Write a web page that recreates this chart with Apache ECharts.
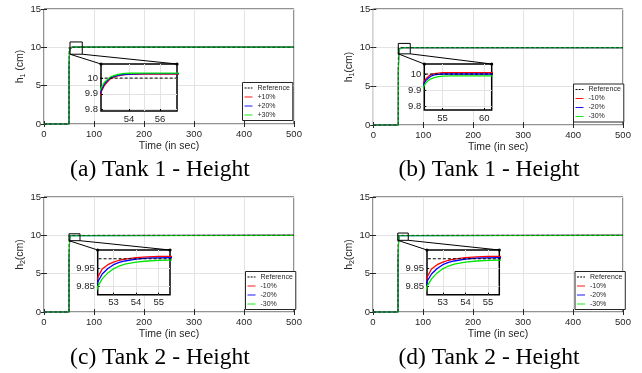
<!DOCTYPE html>
<html><head><meta charset="utf-8">
<script src="https://cdn.jsdelivr.net/npm/echarts@6/dist/echarts.min.js"></script>
<style>html,body{margin:0;padding:0;background:#fff}#c{width:642px;height:373px}</style>
</head><body><div id="c"></div>
<script>
// ---------- data ----------
const mainXTicks = [0, 100, 200, 300, 400, 500];
const mainYTicks = [0, 5, 10, 15];
const refTime = [0, 50, 50, 500];
const refHeight = [0, 0, 10, 10];

// (a) Tank 1, +variations
const timeA  = [0, 50, 50.2, 51, 51.6, 52.2, 52.4, 52.6, 52.8, 53.0, 53.3, 53.6, 54, 55, 57.1, 500];
const redA   = [0, 0, 7.0, 9.3, 9.75, 9.91, 9.95, 9.975, 9.995, 10.005, 10.015, 10.02, 10.024, 10.026, 10.026, 10.026];
const blueA  = [0, 0, 7.2, 9.35, 9.78, 9.92, 9.96, 9.983, 10.0, 10.01, 10.018, 10.023, 10.026, 10.028, 10.028, 10.028];
const greenA = [0, 0, 7.4, 9.4, 9.8, 9.935, 9.97, 9.99, 10.006, 10.015, 10.023, 10.028, 10.031, 10.032, 10.032, 10.032];

// (b) Tank 1, -variations
const timeB  = [0, 50, 50.2, 51, 52, 52.8, 53.0, 53.3, 53.6, 54, 54.5, 55, 56, 58, 61, 500];
const redB   = [0, 0, 7.0, 9.3, 9.85, 9.955, 9.97, 9.985, 9.995, 10.002, 10.006, 10.008, 10.008, 10.008, 10.008, 10.008];
const blueB  = [0, 0, 7.0, 9.28, 9.83, 9.945, 9.96, 9.975, 9.986, 9.994, 9.998, 10.0, 10.0, 10.0, 10.0, 10.0];
const greenB = [0, 0, 7.0, 9.25, 9.81, 9.93, 9.945, 9.96, 9.97, 9.978, 9.984, 9.987, 9.988, 9.988, 9.988, 9.988];

// (c) Tank 2, -variations
const timeC  = [0, 50, 50.2, 51, 51.7, 52.3, 52.5, 52.75, 53, 53.25, 53.5, 54, 54.5, 55, 55.5, 500];
const redC   = [0, 0, 6.5, 9.0, 9.7, 9.90, 9.945, 9.968, 9.982, 9.992, 9.998, 10.006, 10.010, 10.012, 10.013, 10.013];
const blueC  = [0, 0, 6.4, 8.9, 9.65, 9.875, 9.918, 9.948, 9.968, 9.980, 9.988, 9.998, 10.003, 10.005, 10.006, 10.006];
const greenC = [0, 0, 6.3, 8.8, 9.6, 9.85, 9.892, 9.924, 9.946, 9.961, 9.971, 9.982, 9.988, 9.991, 9.993, 9.993];

// (d) Tank 2, -variations
const timeD  = [0, 50, 50.2, 51, 51.7, 52.3, 52.5, 52.75, 53, 53.25, 53.5, 54, 54.5, 55, 55.5, 500];
const redD   = [0, 0, 6.5, 9.0, 9.7, 9.90, 9.945, 9.968, 9.982, 9.992, 9.998, 10.006, 10.010, 10.012, 10.013, 10.013];
const blueD  = [0, 0, 6.4, 8.9, 9.65, 9.878, 9.918, 9.948, 9.968, 9.980, 9.988, 9.998, 10.003, 10.005, 10.006, 10.006];
const greenD = [0, 0, 6.3, 8.8, 9.6, 9.852, 9.892, 9.924, 9.946, 9.961, 9.971, 9.982, 9.988, 9.991, 9.993, 9.993];

const legendPos = ['Reference', '+10%', '+20%', '+30%'];
const legendNeg = ['Reference', '-10%', '-20%', '-30%'];
const captions = ['(a) Tank 1 - Height', '(b) Tank 1 - Height', '(c) Tank 2 - Height', '(d) Tank 2 - Height'];
const ySubscripts = ['1', '1', '2', '2'];
const yUnits = [' (cm)', '(cm)', '(cm)', '(cm)'];

// inset ranges and ticks
const insetXRange = [[52.2, 57.1], [52.8, 60.9], [52.3, 55.5], [52.3, 55.5]];
const insetYRange = [[9.79, 10.09], [9.775, 10.0625], [9.807, 10.047], [9.807, 10.047]];
const insetXTicks = [[54, 56], [55, 60], [53, 54, 55], [53, 54, 55]];
const insetXGrid  = [[54, 55, 56], [55, 60], [53, 54, 55], [53, 54, 55]];
const insetYTicks = [[9.8, 9.9, 10], [9.8, 9.9, 10], [9.85, 9.95], [9.85, 9.95]];
// zoom rectangles on main plots [x0, x1, y0, y1]
const zoomBoxes = [[52, 76.5, 9.1, 10.7], [50, 74, 9.2, 10.55], [50, 72, 9.3, 10.2], [49.5, 70.5, 9.35, 10.3]];

// ---------- layout ----------
const FONT = '"Liberation Sans", Arial, sans-serif';
const TXT = '#262626';
const mainGrids  = [[44, 9, 250, 115], [373.3, 9, 249.7, 116], [44, 197, 250, 115], [373, 197, 250, 115]];
const insetGrids = [[101, 64, 76, 47], [424.3, 64, 67.4, 46], [97.7, 250, 72.3, 44.7], [427, 250, 72.3, 44.7]];
const legendXY = [[242.5, 82.5], [573.5, 84], [245.5, 271.5], [575, 271.5]];
const captionXY = [[160, 170], [489, 170], [160, 358], [489, 358]];
const ICON_SOLID = 'path://M0,0h14v1.6h-14z';
const ICON_DASH = 'path://M0,0h3.5v1.6h-3.5zM5.5,0h3.5v1.6h-3.5zM11,0h3v1.6h-3z';

const panelSeries = [
  [timeA, redA, blueA, greenA, legendPos],
  [timeB, redB, blueB, greenB, legendNeg],
  [timeC, redC, blueC, greenC, legendNeg],
  [timeD, redD, blueD, greenD, legendNeg]
];
const zip = (t, v) => t.map((x, i) => [x, v[i]]);
const colors = ['#ff0000', '#0000ff', '#00e600'];

const grid = [], xAxis = [], yAxis = [], series = [], legend = [];
const idx = [];

panelSeries.forEach((p, i) => {
  const [t, r, b, g, names] = p;
  const mg = mainGrids[i], ig = insetGrids[i];
  const gMain = grid.length;
  grid.push({left: mg[0], top: mg[1], width: mg[2], height: mg[3], show: true, borderColor: TXT, borderWidth: 1, backgroundColor: '#fff', z: 0, containLabel: false, outerBoundsMode: 'none'});
  const gIn = grid.length;
  grid.push({left: ig[0], top: ig[1], width: ig[2], height: ig[3], show: true, borderColor: '#000', borderWidth: 1.5, backgroundColor: '#fff', z: 5, containLabel: false, outerBoundsMode: 'none'});

  const xm = xAxis.length;
  xAxis.push({type: 'value', gridIndex: gMain, min: mainXTicks[0], max: mainXTicks[mainXTicks.length - 1], interval: mainXTicks[1] - mainXTicks[0],
    axisLine: {show: false}, axisTick: {inside: true, length: 3, lineStyle: {color: TXT}},
    axisLabel: {fontSize: 9.5, color: TXT, margin: 5, fontFamily: FONT, showMinLabel: true, showMaxLabel: true},
    splitLine: {show: true, lineStyle: {color: '#e3e3e3', width: 1}},
    name: 'Time (in sec)', nameLocation: 'middle', nameGap: 17, nameTextStyle: {fontSize: 10.5, color: TXT, fontFamily: FONT}, z: 1});
  xAxis.push({type: 'value', gridIndex: gMain, position: 'top', min: mainXTicks[0], max: mainXTicks[mainXTicks.length - 1], interval: mainXTicks[1] - mainXTicks[0],
    axisLine: {show: false}, axisTick: {inside: true, length: 3, lineStyle: {color: TXT}}, axisLabel: {show: false}, splitLine: {show: false}, z: 1});
  const xi = xAxis.length;
  xAxis.push({type: 'value', gridIndex: gIn, min: insetXRange[i][0], max: insetXRange[i][1],
    axisLine: {show: false}, axisTick: {inside: true, length: 2, customValues: insetXTicks[i], lineStyle: {color: '#000'}},
    axisLabel: {fontSize: 9.5, color: TXT, margin: 3, fontFamily: FONT, customValues: insetXTicks[i]},
    splitLine: {show: false}, z: 6});

  const ym = yAxis.length;
  yAxis.push({type: 'value', gridIndex: gMain, min: mainYTicks[0], max: mainYTicks[mainYTicks.length - 1], interval: mainYTicks[1] - mainYTicks[0],
    axisLine: {show: false}, axisTick: {inside: true, length: 3, lineStyle: {color: TXT}},
    axisLabel: {fontSize: 9.5, color: TXT, margin: 3, fontFamily: FONT, showMinLabel: true, showMaxLabel: true},
    splitLine: {show: true, lineStyle: {color: '#e3e3e3', width: 1}},
    name: '{n|h}{s|' + ySubscripts[i] + '}{n|' + yUnits[i] + '}', nameLocation: 'middle', nameGap: 15,
    nameTextStyle: {color: TXT, fontFamily: FONT, rich: {
      n: {fontSize: 10.5, lineHeight: 12, verticalAlign: 'top', color: TXT, fontFamily: FONT},
      s: {fontSize: 7, lineHeight: 7, verticalAlign: 'bottom', padding: [7, 0, 0, 0], color: TXT, fontFamily: FONT}}}, z: 1});
  yAxis.push({type: 'value', gridIndex: gMain, position: 'right', min: mainYTicks[0], max: mainYTicks[mainYTicks.length - 1], interval: mainYTicks[1] - mainYTicks[0],
    axisLine: {show: false}, axisTick: {inside: true, length: 3, lineStyle: {color: TXT}}, axisLabel: {show: false}, splitLine: {show: false}, z: 1});
  const yi = yAxis.length;
  yAxis.push({type: 'value', gridIndex: gIn, min: insetYRange[i][0], max: insetYRange[i][1],
    axisLine: {show: false}, axisTick: {inside: true, length: 2, customValues: insetYTicks[i], lineStyle: {color: '#000'}},
    axisLabel: {fontSize: 9.5, color: TXT, margin: 3, fontFamily: FONT, customValues: insetYTicks[i]},
    splitLine: {show: false}, z: 6});
  idx.push({xm, ym, xi, yi});

  const vals = [r, b, g];
  vals.forEach((v, k) => series.push({type: 'line', name: names[k + 1], xAxisIndex: xm, yAxisIndex: ym, data: zip(t, v),
    symbol: 'none', clip: false, lineStyle: {color: colors[k], width: 1.1}, itemStyle: {color: colors[k]}, z: 2, silent: true}));
  series.push({type: 'line', name: 'Reference', xAxisIndex: xm, yAxisIndex: ym, data: zip(refTime, refHeight),
    symbol: 'none', clip: false, lineStyle: {color: '#000', width: 1, type: [3, 2], opacity: 0.55}, itemStyle: {color: '#000'}, z: 3, silent: true});
  const zb = zoomBoxes[i];
  series.push({type: 'line', name: 'zoombox', xAxisIndex: xm, yAxisIndex: ym,
    data: [[zb[0], zb[2]], [zb[1], zb[2]], [zb[1], zb[3]], [zb[0], zb[3]], [zb[0], zb[2]]],
    symbol: 'none', clip: false, lineStyle: {color: '#000', width: 1}, z: 4, silent: true});
  series.push({type: 'line', name: 'insetgrid', xAxisIndex: xi, yAxisIndex: yi, data: [], z: 6, silent: true,
    markLine: {silent: true, symbol: 'none', label: {show: false}, animation: false,
      lineStyle: {color: '#e3e3e3', width: 1, type: 'solid'},
      data: insetXGrid[i].map(x => ({xAxis: x})).concat(insetYTicks[i].map(y => ({yAxis: y})))}});
  vals.forEach((v, k) => series.push({type: 'line', name: names[k + 1], xAxisIndex: xi, yAxisIndex: yi, data: zip(t, v),
    symbol: 'none', clip: true, lineStyle: {color: colors[k], width: 1.3}, itemStyle: {color: colors[k]}, z: 7, silent: true}));
  series.push({type: 'line', name: 'Reference', xAxisIndex: xi, yAxisIndex: yi, data: zip(refTime, refHeight),
    symbol: 'none', clip: true, lineStyle: {color: '#000', width: 1, type: [3, 2]}, itemStyle: {color: '#000'}, z: 8, silent: true});

  legend.push({data: names.map((n, k) => ({name: n, icon: k === 0 ? ICON_DASH : ICON_SOLID})),
    orient: 'vertical', left: legendXY[i][0], top: legendXY[i][1], padding: [2, 3, 2, 2],
    itemGap: 2, itemWidth: 8, itemHeight: 7, itemTextGap: 1, selectedMode: false, symbolKeepAspect: true,
    textStyle: {fontSize: 7, color: TXT, fontFamily: FONT, lineHeight: 7},
    borderColor: TXT, borderWidth: 1, backgroundColor: '#fff', borderRadius: 0, z: 10});
});

const chart = echarts.init(document.getElementById('c'), null, {renderer: 'canvas'});
chart.setOption({animation: false, backgroundColor: '#fff', grid, xAxis, yAxis, series, legend, tooltip: {show: false}});

const graphics = [];
captions.forEach((c, i) => graphics.push({type: 'text', x: captionXY[i][0], y: captionXY[i][1], z: 20,
  style: {text: c, font: '23.5px "Liberation Serif", "Times New Roman", serif', fill: '#000',
    textAlign: 'center', textVerticalAlign: 'middle', align: 'center', verticalAlign: 'middle'}}));
zoomBoxes.forEach((zb, i) => {
  const a = idx[i];
  const bl = chart.convertToPixel({xAxisIndex: a.xm, yAxisIndex: a.ym}, [zb[0], zb[2]]);
  const br = chart.convertToPixel({xAxisIndex: a.xm, yAxisIndex: a.ym}, [zb[1], zb[2]]);
  const tl = chart.convertToPixel({xAxisIndex: a.xi, yAxisIndex: a.yi}, [insetXRange[i][0], insetYRange[i][1]]);
  const tr = chart.convertToPixel({xAxisIndex: a.xi, yAxisIndex: a.yi}, [insetXRange[i][1], insetYRange[i][1]]);
  [[bl, tl], [br, tr]].forEach(([p, q]) => graphics.push({type: 'line', z: 20, silent: true,
    shape: {x1: p[0], y1: p[1], x2: q[0], y2: q[1]}, style: {stroke: '#000', lineWidth: 1}}));
  [tl, tr].forEach(q => graphics.push({type: 'circle', z: 21, silent: true, shape: {cx: q[0], cy: q[1], r: 1.6}, style: {fill: '#000'}}));
});
chart.setOption({graphic: graphics});
</script></body></html>
